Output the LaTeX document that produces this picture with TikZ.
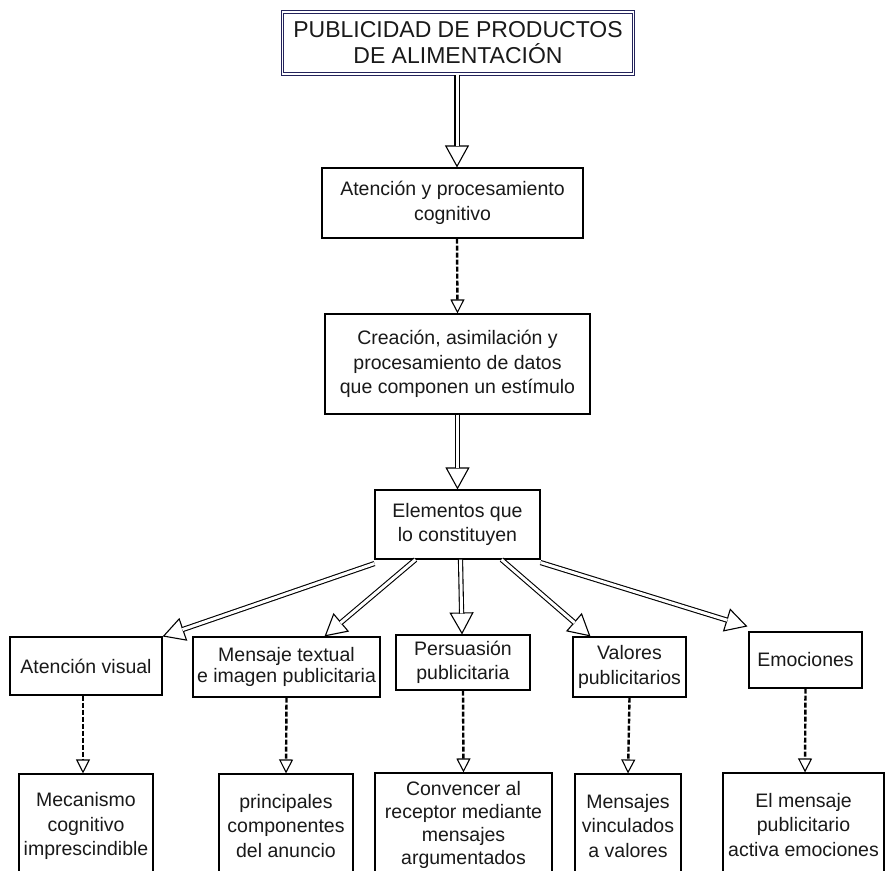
\documentclass[tikz,border=0pt]{standalone}
\usepackage{fontspec}
\setmainfont{Liberation Sans}
\usetikzlibrary{arrows.meta,calc}
\definecolor{navyline}{RGB}{35,35,90}
\definecolor{txt}{RGB}{25,25,25}
\tikzset{
  box/.style={draw=black, line width=1.1pt, inner sep=0pt, align=center, text=txt,
    font=\fontsize{19.5}{24.5}\selectfont},
  titlebox/.style={draw=navyline, double=white, double distance=1.6pt, line width=1pt,
    inner sep=0pt, align=center, text=txt, font=\fontsize{23}{26}\selectfont},
  dblshaft/.style={draw=black, double=white, double distance=3pt, line width=1.1pt, shorten >=21pt},
  dblhead/.style={draw=black, line width=1.1pt, -{Triangle[open,length=22pt,width=24pt]}},
  dasharrow/.style={draw=black, line width=2.4pt, dash pattern=on 5pt off 2pt,
    -{Triangle[open,length=14pt,width=14pt,line width=1.1pt]}}
}
\newcommand\DblArrow[2]{%
  \draw[dblhead] ($(#2)!23pt!(#1)$) -- (#2);
  \draw[dblshaft] (#1) -- (#2);}
\begin{document}
\begin{tikzpicture}[x=1pt,y=-1pt]
\useasboundingbox (0,0) rectangle (885,870);
\fill[white] (0,0) rectangle (885,870);
\clip (0,0) rectangle (885,870);

\node[titlebox, minimum width=351pt, minimum height=62pt] (title) at (458,43) {PUBLICIDAD DE PRODUCTOS\\DE ALIMENTACIÓN};
\node[box, minimum width=261pt, minimum height=70pt] (at) at (452.5,203) {Atención y procesamiento\\cognitivo};
\node[box, minimum width=265pt, minimum height=100pt] (cr) at (457.5,364) {Creación, asimilación y\\procesamiento de datos\\que componen un estímulo};
\node[box, minimum width=165pt, minimum height=69pt] (el) at (457.5,524.5) {Elementos que\\lo constituyen};

\node[box, minimum width=152pt, minimum height=58pt] (av) at (86,666) {Atención visual};
\node[box, minimum width=187pt, minimum height=60pt, font=\fontsize{19.5}{20.5}\selectfont] (mt) at (286.5,667) {Mensaje textual\\e imagen publicitaria};
\node[box, minimum width=134pt, minimum height=55pt] (ps) at (463,662.5) {Persuasión\\publicitaria};
\node[box, minimum width=113pt, minimum height=60pt] (vp) at (629.5,667) {Valores\\publicitarios};
\node[box, minimum width=113pt, minimum height=56pt] (em) at (805.5,660) {Emociones};

\node[box, minimum width=134pt, minimum height=104pt] (mc) at (86,826) {Mecanismo\\cognitivo\\imprescindible};
\node[box, minimum width=134pt, minimum height=104pt] (pc) at (286,826) {principales\\componentes\\del anuncio};
\node[box, minimum width=177pt, minimum height=104pt, font=\fontsize{19.5}{23}\selectfont] (cv) at (463.5,825) {Convencer al\\receptor mediante\\mensajes\\argumentados};
\node[box, minimum width=106pt, minimum height=104pt] (mv) at (628,826) {Mensajes\\vinculados\\a valores};
\node[box, minimum width=161pt, minimum height=104pt] (ea) at (803.5,825) {El mensaje\\publicitario\\activa emociones};

% double arrows
\coordinate (s0) at ([xshift=-1pt]title.south);
\coordinate (t0) at ([xshift=4.5pt]at.north);
\DblArrow{s0}{t0}
\coordinate (s2) at (cr.south);
\coordinate (t2) at (el.north);
\DblArrow{s2}{t2}
\coordinate (s3) at ([yshift=-4pt]el.south west);
\coordinate (t3) at (av.north east);
\DblArrow{s3}{t3}
\coordinate (s4) at ([xshift=-42pt]el.south);
\coordinate (t4) at ([xshift=38pt]mt.north);
\DblArrow{s4}{t4}
\coordinate (s5) at ([xshift=3pt]el.south);
\coordinate (t5) at ([xshift=-1pt]ps.north);
\DblArrow{s5}{t5}
\coordinate (s6) at ([xshift=44pt]el.south);
\coordinate (t6) at ([xshift=-39pt]vp.north);
\DblArrow{s6}{t6}
\coordinate (s7) at ([yshift=-3pt]el.south east);
\coordinate (t7) at ([xshift=-1pt,yshift=5pt]em.north west);
\DblArrow{s7}{t7}

% dashed arrows
\draw[dasharrow] ([xshift=4.5pt]at.south) -- (cr.north);
\draw[dasharrow] ([xshift=-3pt]av.south) -- ([xshift=-3pt]mc.north);
\draw[dasharrow] (mt.south) -- (pc.north);
\draw[dasharrow] (ps.south) -- (cv.north);
\draw[dasharrow] (vp.south) -- (mv.north);
\draw[dasharrow] (em.south) -- ([xshift=1.5pt]ea.north);
\end{tikzpicture}
\end{document}
